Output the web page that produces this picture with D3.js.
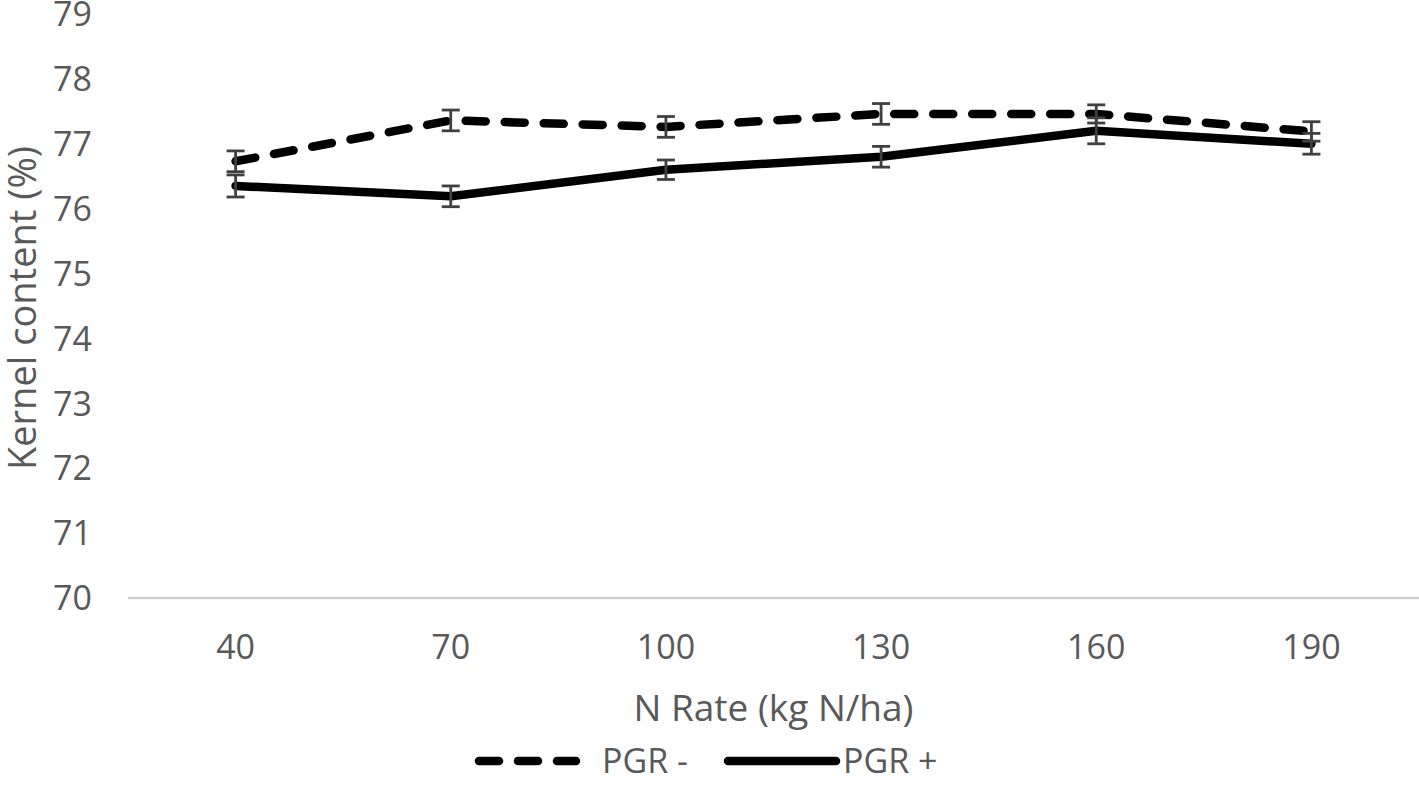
<!DOCTYPE html>
<html>
<head>
<meta charset="utf-8">
<script src="https://cdn.jsdelivr.net/npm/d3@7"></script>
<style>
html,body{margin:0;padding:0;background:#fff;}
text{font-family:"Open Sans","Noto Sans",sans-serif;fill:#595959;}
</style>
</head>
<body>
<svg id="chart" width="1419" height="797"></svg>
<script>
const categories = ["40","70","100","130","160","190"];
const pgrMinus = [76.73, 77.36, 77.26, 77.46, 77.46, 77.19];
const pgrMinusErr = [0.16, 0.16, 0.16, 0.16, 0.14, 0.15];
const pgrPlus = [76.35, 76.19, 76.6, 76.8, 77.2, 77.0];
const pgrPlusErr = [0.17, 0.16, 0.15, 0.16, 0.2, 0.16];
const yTicks = [70,71,72,73,74,75,76,77,78,79];

const svg = d3.select("#chart");
const pLeft = 128, pRight = 1419, pTop = 14, pBottom = 598;

const x = d3.scaleBand().domain(categories).range([pLeft, pRight]);
const y = d3.scaleLinear().domain([70, 79]).range([pBottom, pTop]);
const cx = c => x(c) + x.bandwidth()/2;

// x axis line
svg.append("line").attr("x1", pLeft).attr("x2", pRight).attr("y1", y(70)).attr("y2", y(70))
  .attr("stroke", "#d0d0d0").attr("stroke-width", 2.5);

// y tick labels
svg.selectAll(".yt").data(yTicks).enter().append("text")
  .attr("x", 92).attr("y", d => y(d)).attr("dy", "0.36em")
  .attr("text-anchor", "end").attr("font-size", 34).text(d => d);

// x tick labels
svg.selectAll(".xt").data(categories).enter().append("text")
  .attr("x", d => cx(d)).attr("y", 647).attr("dy", "0.36em")
  .attr("text-anchor", "middle").attr("font-size", 34).text(d => d);

// axis titles
svg.append("text").attr("x", (pLeft+pRight)/2).attr("y", 708).attr("dy", "0.36em")
  .attr("text-anchor", "middle").attr("font-size", 37).text("N Rate (kg N/ha)");
svg.append("text").attr("transform", "translate(22,308) rotate(-90)").attr("dy", "0.36em")
  .attr("text-anchor", "middle").attr("font-size", 38).text("Kernel content (%)");

const line = d3.line().x((d,i) => cx(categories[i])).y(d => y(d));

function errBars(vals, errs) {
  const g = svg.append("g").attr("stroke", "#404040").attr("stroke-width", 2.8);
  vals.forEach((v,i) => {
    const xc = cx(categories[i]);
    g.append("line").attr("x1", xc).attr("x2", xc).attr("y1", y(v+errs[i])).attr("y2", y(v-errs[i]));
    g.append("line").attr("x1", xc-9).attr("x2", xc+9).attr("y1", y(v+errs[i])).attr("y2", y(v+errs[i]));
    g.append("line").attr("x1", xc-9).attr("x2", xc+9).attr("y1", y(v-errs[i])).attr("y2", y(v-errs[i]));
  });
}

svg.append("path").datum(pgrMinus).attr("d", line).attr("fill", "none")
  .attr("stroke", "#000").attr("stroke-width", 8.5).attr("stroke-linecap", "round")
  .attr("stroke-linejoin", "round").attr("stroke-dasharray", "20,19");
svg.append("path").datum(pgrPlus).attr("d", line).attr("fill", "none")
  .attr("stroke", "#000").attr("stroke-width", 8.5).attr("stroke-linecap", "round")
  .attr("stroke-linejoin", "round");
errBars(pgrMinus, pgrMinusErr);
errBars(pgrPlus, pgrPlusErr);

// legend
const ly = 761;
svg.append("line").attr("x1", 479).attr("x2", 576).attr("y1", ly).attr("y2", ly)
  .attr("stroke", "#000").attr("stroke-width", 8.5).attr("stroke-linecap", "round")
  .attr("stroke-dasharray", "20,19");
svg.append("text").attr("x", 602).attr("y", ly).attr("dy", "0.36em").attr("font-size", 34).text("PGR -");
svg.append("line").attr("x1", 728).attr("x2", 836).attr("y1", ly).attr("y2", ly)
  .attr("stroke", "#000").attr("stroke-width", 8.5).attr("stroke-linecap", "round");
svg.append("text").attr("x", 843).attr("y", ly).attr("dy", "0.36em").attr("font-size", 34).text("PGR +");
</script>
</body>
</html>
